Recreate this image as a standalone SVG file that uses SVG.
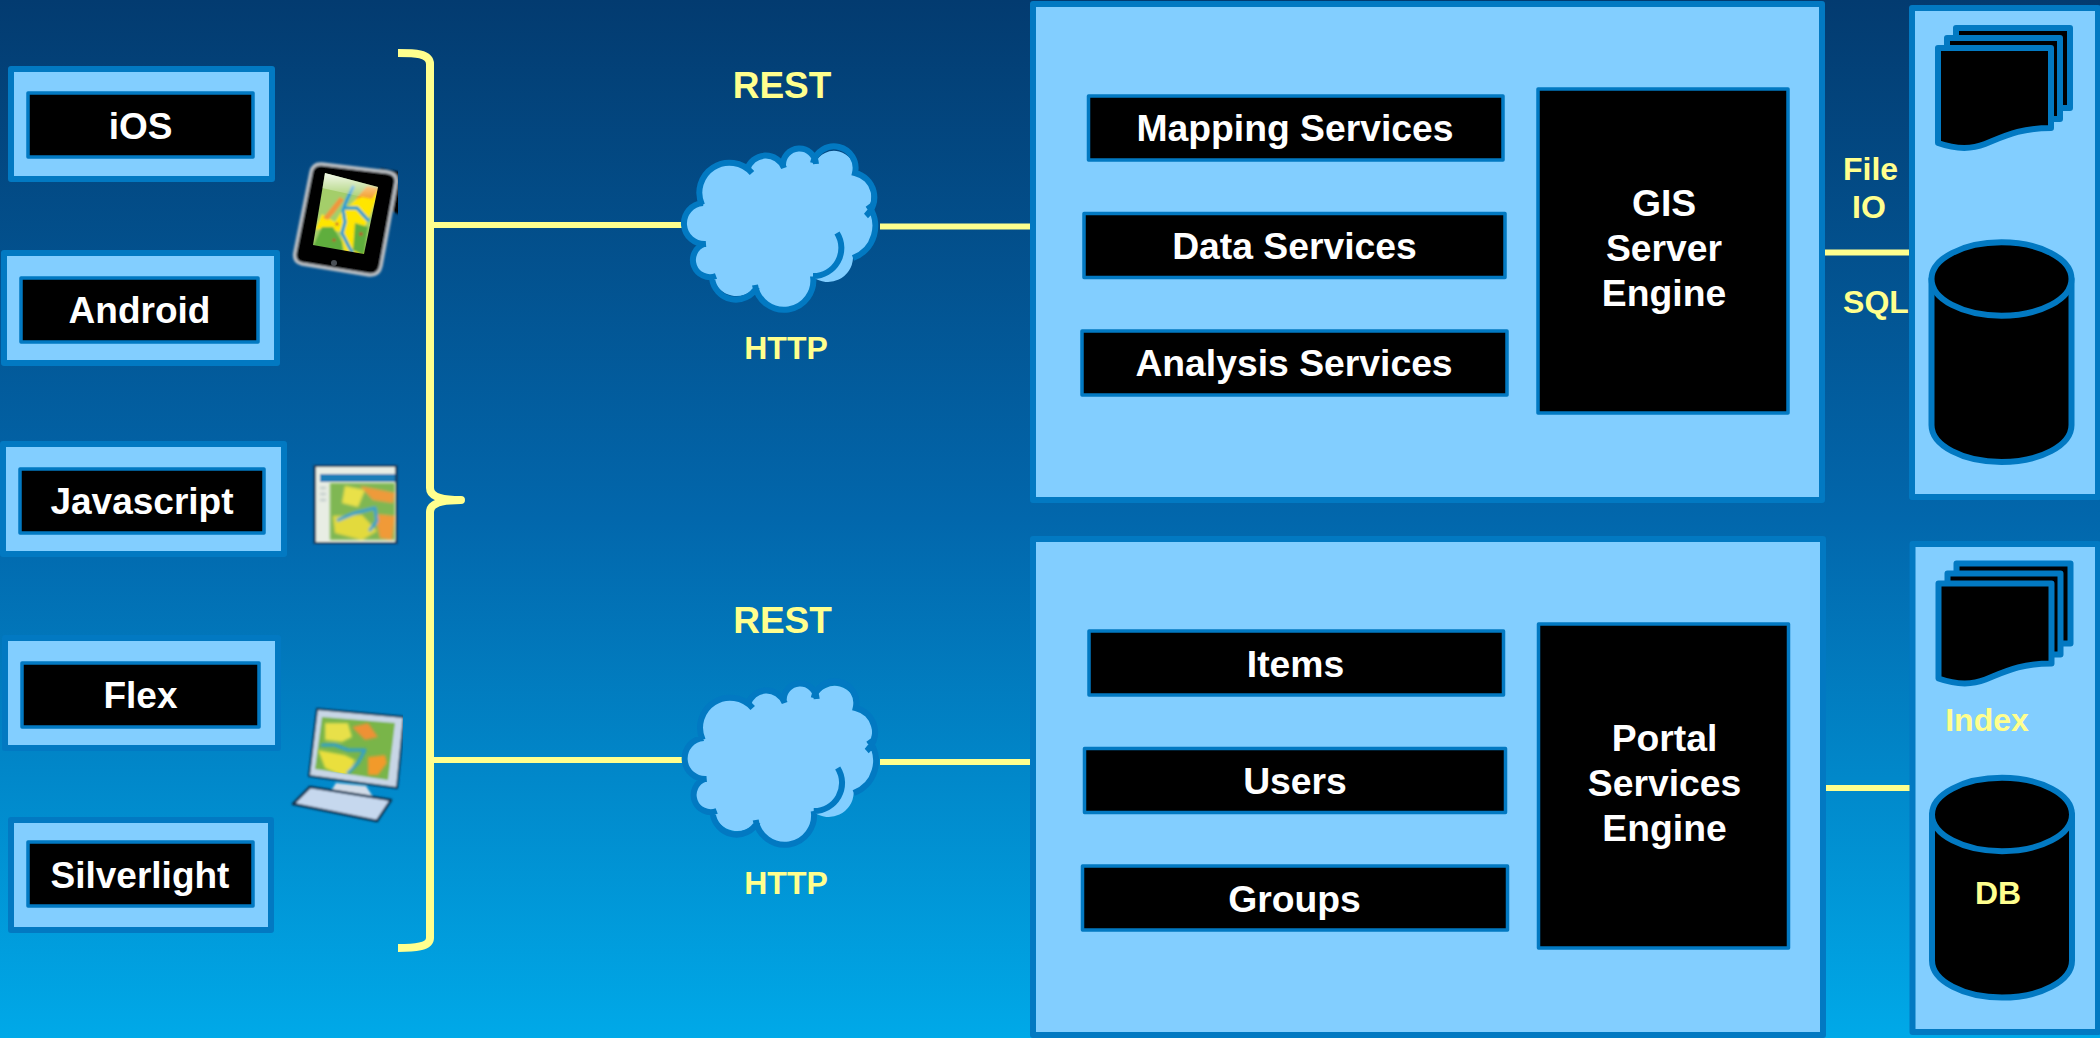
<svg xmlns="http://www.w3.org/2000/svg" width="2100" height="1038" viewBox="0 0 2100 1038">
<style>
text{font-family:"Liberation Sans",Arial,sans-serif;font-weight:700;text-anchor:middle}
.w{fill:#fff;font-size:37px}
.s{fill:#fff;font-size:37.300px}
.y{fill:#FFFF8E;font-size:32px}
.yb{fill:#FFFF8E;font-size:37px}
.panel{fill:#82CEFF;stroke:#0279C2;stroke-width:6;stroke-linejoin:round}
.box{fill:#000;stroke:#0279C2;stroke-width:3.500;stroke-linejoin:round}
.sheet{fill:#000;stroke:#0279C2;stroke-width:6;stroke-linejoin:round}
.wire{fill:none;stroke:#FFFF8E;stroke-width:6}
.cf{fill:#82CEFF}
.cs{fill:none;stroke:#0279C2;stroke-width:6}
.riv{fill:none;stroke:#2E9FD2;stroke-linejoin:round;stroke-linecap:round}
</style>
<defs>
<linearGradient id="bg" x1="0" y1="0" x2="0" y2="1">
<stop offset="0" stop-color="#033B70"/>
<stop offset=".5" stop-color="#0267AC"/>
<stop offset="1" stop-color="#00A9E8"/>
</linearGradient>
<linearGradient id="glare" x1="0" y1="0" x2="0" y2="1">
<stop offset="0" stop-color="#fff" stop-opacity=".9"/>
<stop offset="1" stop-color="#fff" stop-opacity="0"/>
</linearGradient>
<filter id="soft" x="-10%" y="-10%" width="120%" height="120%"><feGaussianBlur stdDeviation="0.8"/></filter>
<filter id="soft2" x="-10%" y="-10%" width="120%" height="120%"><feGaussianBlur stdDeviation="1.800"/></filter>
<clipPath id="clipTablet"><path d="M325,173 378,187 364,254 313,245Z"/></clipPath>
<clipPath id="clipDesk"><path d="M322,717 395,723 388,780 315,769Z"/></clipPath>
<clipPath id="clipIcons"><rect x="280" y="150" width="118" height="140"/></clipPath>
<clipPath id="clipDeskAll"><rect x="285" y="700" width="118" height="130"/></clipPath>
<g id="cloud">
<path class="cf" d="M702,203A30 30 0 0 1 749,168A19.500 19.500 0 0 1 784,166A15.600 15.600 0 0 1 815,163A21 21 0 0 1 855,173A25 25 0 0 1 870,205A34 34 0 0 1 853,258A25 25 0 0 1 813,277A29 29 0 0 1 756,286A24 24 0 0 1 713,277A17 17 0 0 1 704,244A20.500 20.500 0 0 1 702,203Z"/>
<path class="cs" d="M702,205A30 30 0 0 1 752,173M747,170A19.500 19.500 0 0 1 784,168M783,166A15.600 15.600 0 0 1 816,164M813,163A21 21 0 0 1 855,173A25 25 0 0 1 866,216M868,205A34 34 0 0 1 853,258M837,233A28 28 0 0 1 813,276M813,276A29 29 0 0 1 755,285M757,287A24 24 0 0 1 712,278M716,276A17 17 0 0 1 704,244M706,244A20.500 20.500 0 0 1 703,203"/>
</g>
<g id="sheets">
<path class="sheet" d="M1956,28H2070V108H1956Z"/>
<path class="sheet" d="M1947,38H2060V119H1947Z"/>
<path class="sheet" d="M1938,48H2051V128C2020,128 2005,136 1985,144C1970,150 1955,149 1938,143Z"/>
</g>
<g id="cyl">
<path class="sheet" d="M1931.500,279V425A70 37 0 0 0 2071.500,425V279Z"/>
<ellipse class="sheet" cx="2001.500" cy="279" rx="70" ry="36.700"/>
</g>
</defs>
<rect id="background" width="2100" height="1038" fill="url(#bg)"/>

<g id="connectors">
<path class="wire" style="stroke-width:8;stroke-linejoin:round" d="M398,53C414,53 430,53 430,64V488C430,496 440,500 461,500C440,500 430,504 430,512V938C430,947 414,948 398,948"/>
<path class="wire" d="M432,225H682M432,760H682M880,226.500H1031M880,762H1031M1823,252.500H1911M1823,788H1911"/>
</g>

<g id="ios"><rect class="panel" x="11" y="69" width="261" height="110"/><rect class="box" x="28" y="93" width="225" height="64"/><text class="w" x="140.500" y="139">iOS</text></g>
<g id="android"><rect class="panel" x="4" y="253" width="273" height="110"/><rect class="box" x="21" y="278" width="237" height="64"/><text class="w" x="139.500" y="323">Android</text></g>
<g id="javascript"><rect class="panel" x="3" y="444" width="281" height="110"/><rect class="box" x="20" y="469" width="244" height="64"/><text class="w" x="142" y="514">Javascript</text></g>
<g id="flex"><rect class="panel" x="5" y="638" width="273" height="110"/><rect class="box" x="22" y="663" width="237" height="64"/><text class="w" x="140.500" y="708">Flex</text></g>
<g id="silverlight"><rect class="panel" x="11" y="820" width="260" height="110"/><rect class="box" x="28" y="842" width="225" height="64"/><text class="w" x="140" y="888">Silverlight</text></g>

<g id="tablet-icon" clip-path="url(#clipIcons)">
<g filter="url(#soft)">
<path d="M400,172 380,168V205L400,215Z" fill="#000"/>
<path d="M322,164 388,172Q398,174 396,184L381,266Q379,276 369,275L302,264Q293,262 295,252L311,172Q313,163 322,164Z" fill="#000" stroke="#B9BEC3" stroke-width="3.500"/>
</g>
<g clip-path="url(#clipTablet)">
<g filter="url(#soft)">
<rect x="305" y="165" width="80" height="95" fill="#A4CE6A"/>
<path d="M350,205 368,188 380,190 370,216 360,236 366,256 345,254 340,232 325,228 315,230 322,214 335,222 345,206Z" fill="#FFE600"/>
<path d="M323,218 340,197 344,200 335,212 328,220Z" fill="#F0963C"/>
<path d="M355,200 367,186 379,188 372,199 362,197Z" fill="#F39A22"/>
<path d="M313,246 322,227 333,227 342,242 343,252Z" fill="#5FAE3C"/>
<path d="M353,250 355,223 368,227 364,256Z" fill="#5FAE3C"/>
<path class="riv" stroke-width="3.500" d="M353,187 346,202 343,210 345,222 342,233 348,245 352,252M345,208 357,208 368,220"/>
<circle cx="334" cy="240" r="1.500" fill="#C2452D"/><circle cx="361" cy="234" r="1.800" fill="#C2452D"/><circle cx="337" cy="224" r="1.500" fill="#C2452D"/>
</g>
<path d="M322,172 380,186 376,200 322,188Z" fill="url(#glare)"/>
</g>
<circle cx="334" cy="263" r="3" fill="#4A4F55"/>
</g>

<g id="browser-icon">
<g filter="url(#soft)">
<rect x="313.500" y="465" width="84" height="79" fill="#15385A"/>
<rect x="316" y="467" width="79" height="75" fill="#E8EDE4"/>
<rect x="320" y="474" width="75" height="8" fill="#1F7DB8"/>
</g>
<g filter="url(#soft2)">
<rect x="330" y="483" width="65" height="57" fill="#7FB752"/>
<path d="M345,486 365,490 358,507 342,503Z" fill="#E9E14A"/>
<path d="M333,516 362,515 377,531 362,540 335,533Z" fill="#E3DA3E"/>
<path d="M360,486 395,493 393,503 373,500Z" fill="#EE9A3B"/>
<path d="M375,514 395,516 392,540 380,538Z" fill="#F09A38"/>
<path class="riv" stroke-width="3" d="M338,520 355,513 375,508 377,521 370,530"/>
<path d="M320,488H326M320,494H326M320,500H326" stroke="#8A9AA6" fill="none"/>
</g>
</g>

<g id="desktop-icon" clip-path="url(#clipDeskAll)">
<g filter="url(#soft)">
<path d="M336,783 366,786 375,800 328,796Z" fill="#D3DDE9"/>
<path d="M310,787 391,800 377,821 293,804Z" fill="#C6D8EE" stroke="#10304F" stroke-width="2.500" stroke-linejoin="round"/>
<path d="M317,709 404,717 397,788 309,776Z" fill="#C8D6E6" stroke="#10304F" stroke-width="2" stroke-linejoin="round"/>
<path d="M322,717 395,723 388,780 315,769Z" fill="#79B548"/>
</g>
<g clip-path="url(#clipDesk)">
<g filter="url(#soft2)">
<path d="M325,723 348,723 352,737 342,742 325,740Z" fill="#E8E04A"/>
<path d="M318,750 345,755 355,760 347,778 325,768Z" fill="#EADF3C"/>
<path d="M352,727 368,723 378,737 365,740Z" fill="#EE9134"/>
<path d="M368,757 385,755 387,763 378,775 368,775Z" fill="#F29A2C"/>
<path class="riv" stroke-width="3" d="M322,745 335,745 348,750 365,750 358,763 348,773"/>
</g>
</g>
</g>

<g id="rest-top"><text class="yb" x="782" y="98">REST</text><text class="y" x="786" y="359">HTTP</text></g>
<g id="cloud-top"><use href="#cloud"/></g>
<g id="rest-bottom"><text class="yb" x="782.500" y="633">REST</text><text class="y" x="786" y="894">HTTP</text></g>
<g id="cloud-bottom"><use href="#cloud" transform="translate(.7,535)"/></g>

<g id="gis-panel"><rect class="panel" x="1033" y="4" width="789" height="496"/>
<g id="mapping"><rect class="box" x="1088.500" y="96" width="414.500" height="64"/><text class="s" x="1295" y="140.500">Mapping Services</text></g>
<g id="data"><rect class="box" x="1084" y="213.500" width="421" height="64"/><text class="s" x="1294.500" y="258.500">Data Services</text></g>
<g id="analysis"><rect class="box" x="1082" y="331" width="425" height="64"/><text class="s" x="1294" y="375.500">Analysis Services</text></g>
<g id="gis-engine"><rect class="box" x="1538" y="89" width="250" height="324"/><text class="s" x="1664" y="215.500">GIS</text><text class="s" x="1664" y="261">Server</text><text class="s" x="1664" y="306">Engine</text></g>
</g>
<g id="portal-panel"><rect class="panel" x="1033" y="539" width="790" height="496"/>
<g id="items"><rect class="box" x="1089" y="631" width="414.500" height="64"/><text class="s" x="1295.500" y="676.500">Items</text></g>
<g id="users"><rect class="box" x="1084.500" y="748.500" width="421" height="64"/><text class="s" x="1295" y="793.500">Users</text></g>
<g id="groups"><rect class="box" x="1082.500" y="866" width="425" height="64"/><text class="s" x="1294.500" y="911.500">Groups</text></g>
<g id="portal-engine"><rect class="box" x="1538.500" y="624" width="250" height="324"/><text class="s" x="1664.500" y="750.500">Portal</text><text class="s" x="1664.500" y="796">Services</text><text class="s" x="1664.500" y="841">Engine</text></g>
</g>

<g id="file-labels"><text class="y" x="1870.500" y="180">File</text><text class="y" x="1869" y="218">IO</text><text class="y" x="1876" y="313">SQL</text></g>

<g id="store-top"><rect class="panel" x="1912" y="8" width="186" height="489"/><use href="#sheets"/><use href="#cyl"/></g>
<g id="store-bottom"><rect class="panel" x="1912.500" y="544" width="185.500" height="488"/><use href="#sheets" transform="translate(.5,535.500)"/><use href="#cyl" transform="translate(.5,535.500)"/>
<text class="y" x="1987" y="731">Index</text><text class="y" x="1998" y="904">DB</text></g>
</svg>
